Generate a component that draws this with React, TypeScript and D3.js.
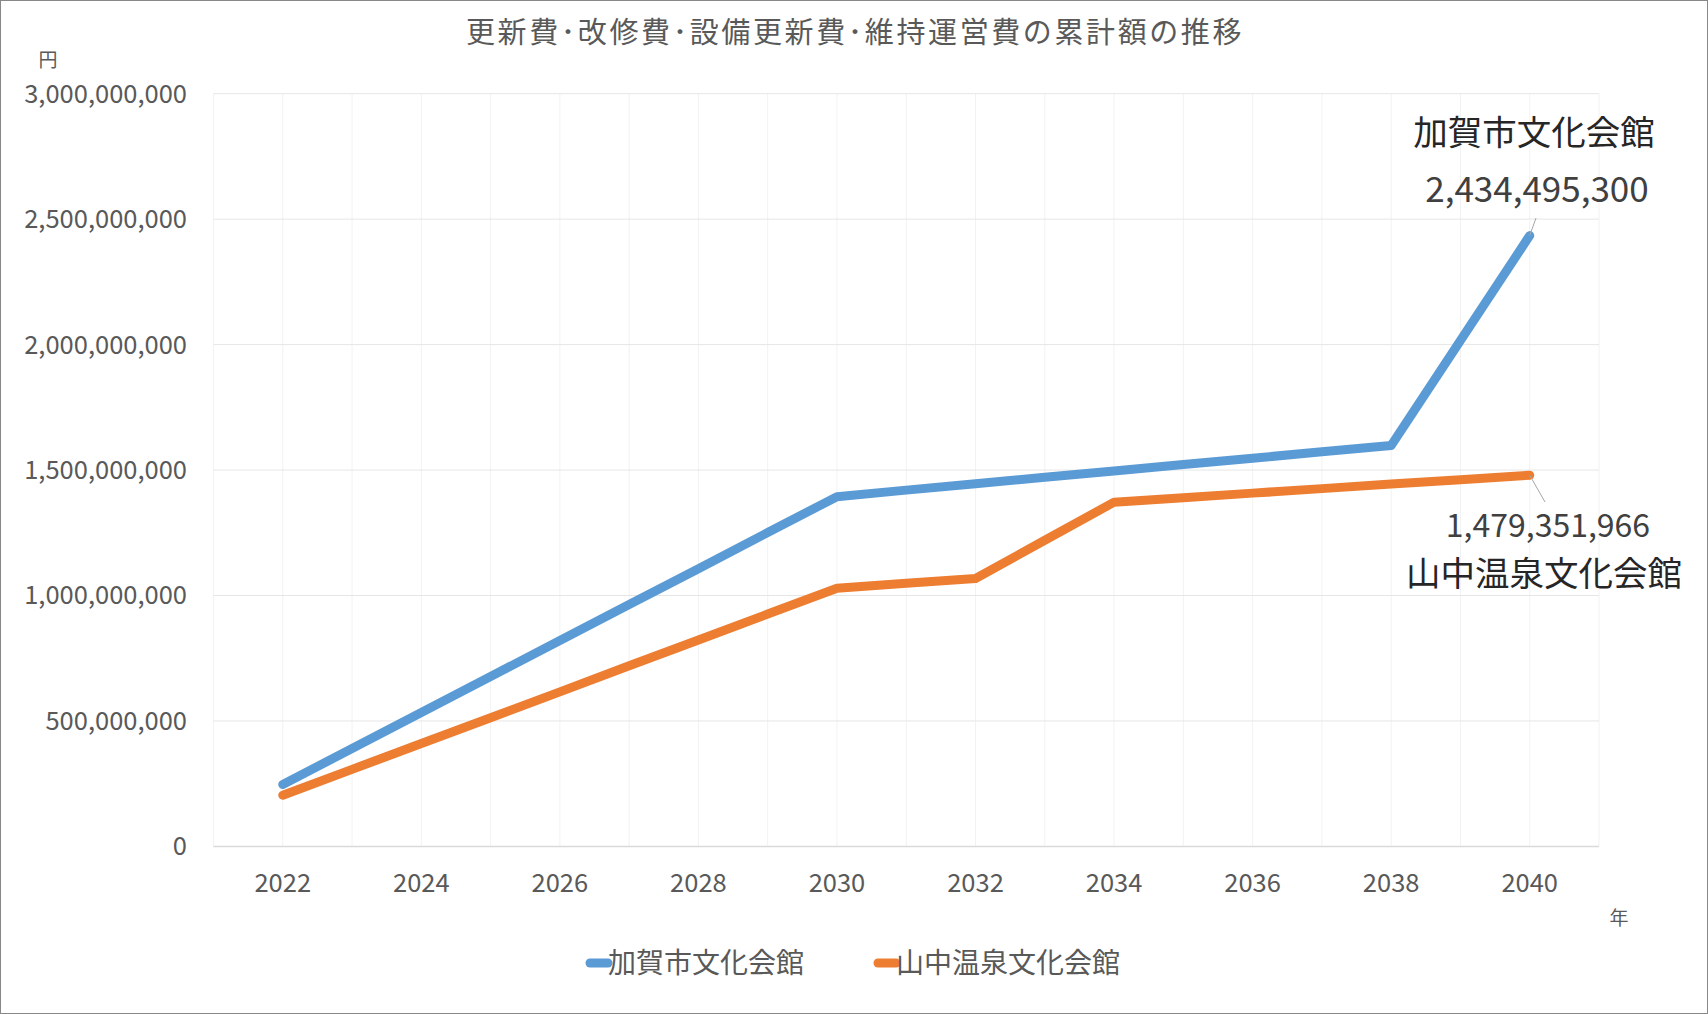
import * as d3 from "d3";

const years = [2022, 2023, 2024, 2025, 2026, 2027, 2028, 2029, 2030, 2031, 2032, 2033, 2034, 2035, 2036, 2037, 2038, 2039, 2040];

const kagaValues = [
  247000000, 390000000, 534000000, 677000000, 821000000, 964000000, 1107000000, 1251000000, 1394000000,
  1420000000, 1445000000, 1471000000, 1496000000, 1522000000, 1547000000, 1573000000, 1598000000,
  2016000000, 2434495300,
];

const yamanakaValues = [
  204000000, 307000000, 410000000, 513000000, 616000000, 720000000, 823000000, 926000000, 1029000000,
  1049000000, 1068000000, 1220000000, 1372000000, 1390000000, 1408000000, 1426000000, 1444000000,
  1461000000, 1479351966,
];

const seriesNames = ["加賀市文化会館", "山中温泉文化会館"];
const seriesColors = ["#5B9BD5", "#ED7D31"];
const xTickLabels = [2022, 2024, 2026, 2028, 2030, 2032, 2034, 2036, 2038, 2040];

const title = "更新費･改修費･設備更新費･維持運営費の累計額の推移";
const font = "'Noto Sans CJK JP', 'Noto Sans', sans-serif";

const W = 1708;
const H = 1014;
const margin = { left: 213.5, right: 1599, top: 93.7, bottom: 846.4 };

export default function App() {
  const x = d3.scaleLinear().domain([2021, 2041]).range([margin.left, margin.right]);
  const y = d3.scaleLinear().domain([0, 3000000000]).range([margin.bottom, margin.top]);
  const fmt = d3.format(",");

  const line = d3
    .line<number>()
    .x((_, i) => x(years[i]))
    .y((d) => y(d));

  const series = [kagaValues, yamanakaValues];
  const lastIdx = years.length - 1;
  const kx = x(years[lastIdx]);
  const kaY = y(kagaValues[lastIdx]);
  const yaY = y(yamanakaValues[lastIdx]);

  return (
    <svg
      width={W}
      height={H}
      viewBox={`0 0 ${W} ${H}`}
      style={{ position: "absolute", left: 0, top: 0, background: "#fff" }}
      fontFamily={font}
    >
      <rect x={0.5} y={0.5} width={W - 1} height={H - 1} fill="#fff" stroke="#888" />

      {/* vertical gridlines */}
      {x.ticks(20).map((t) => (
        <line key={"v" + t} x1={x(t)} x2={x(t)} y1={margin.top} y2={margin.bottom} stroke="#F2F2F2" />
      ))}
      {/* horizontal gridlines */}
      {y.ticks(6).map((t) => (
        <line
          key={"h" + t}
          x1={margin.left}
          x2={margin.right}
          y1={y(t)}
          y2={y(t)}
          stroke={t === 0 ? "#D9D9D9" : "#E6E6E6"}
          strokeWidth={t === 0 ? 1.5 : 1}
        />
      ))}

      {/* y tick labels */}
      {y.ticks(6).map((t) => (
        <text key={"yl" + t} x={187} y={y(t)} dy="0.35em" textAnchor="end" fontSize={25.5} fill="#595959">
          {fmt(t)}
        </text>
      ))}
      {/* x tick labels */}
      {xTickLabels.map((t) => (
        <text key={"xl" + t} x={x(t)} y={883} dy="0.35em" textAnchor="middle" fontSize={25.5} fill="#595959">
          {t}
        </text>
      ))}

      <text x={48} y={60} dy="0.35em" textAnchor="middle" fontSize={19} fill="#595959">円</text>
      <text x={1619} y={918} dy="0.35em" textAnchor="middle" fontSize={19} fill="#595959">年</text>

      {/* title */}
      <text x={855} y={33} dy="0.35em" textAnchor="middle" fontSize={29} letterSpacing={2.6} fill="#595959">
        {title}
      </text>

      {/* lines */}
      {series.map((s, i) => (
        <path
          key={"s" + i}
          d={line(s) || ""}
          fill="none"
          stroke={seriesColors[i]}
          strokeWidth={9}
          strokeLinecap="round"
          strokeLinejoin="round"
        />
      ))}

      {/* data labels */}
      <line x1={1536} y1={218} x2={kx} y2={kaY} stroke="#A6A6A6" />
      <line x1={kx} y1={yaY} x2={1545} y2={502} stroke="#A6A6A6" />
      <text x={1534} y={133} dy="0.35em" textAnchor="middle" fontSize={34.5} fill="#262626">
        {seriesNames[0]}
      </text>
      <text x={1537} y={190} dy="0.35em" textAnchor="middle" fontSize={35} fill="#404040">
        {fmt(kagaValues[lastIdx])}
      </text>
      <text x={1548} y={526} dy="0.35em" textAnchor="middle" fontSize={32} fill="#404040">
        {fmt(yamanakaValues[lastIdx])}
      </text>
      <text x={1544} y={574} dy="0.35em" textAnchor="middle" fontSize={34.5} fill="#262626">
        {seriesNames[1]}
      </text>

      {/* legend */}
      {seriesNames.map((n, i) => {
        const lx = i === 0 ? 590 : 878;
        return (
          <g key={"lg" + i} transform={`translate(${lx},963)`}>
            <line x1={0} x2={18} y1={0} y2={0} stroke={seriesColors[i]} strokeWidth={9} strokeLinecap="round" />
            <text x={18} y={0} dy="0.35em" fontSize={28} fill="#595959">
              {n}
            </text>
          </g>
        );
      })}
    </svg>
  );
}
